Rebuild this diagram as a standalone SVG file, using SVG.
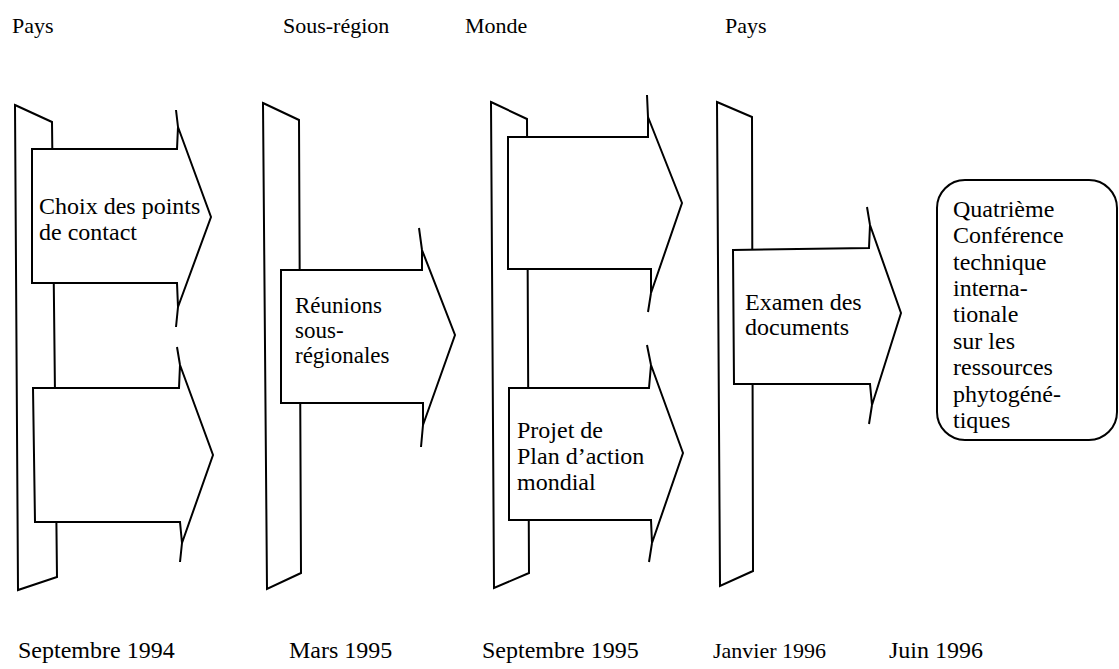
<svg xmlns="http://www.w3.org/2000/svg" width="1119" height="669" viewBox="0 0 1119 669">
<style>
.bar{fill:#fff;stroke:#000;stroke-width:2;stroke-linejoin:miter}
.arr{fill:#fff;stroke:#000;stroke-width:2;stroke-linejoin:miter}
.tick{fill:none;stroke:#000;stroke-width:2}
.box{fill:#fff;stroke:#000;stroke-width:2}
text{font-family:"Liberation Serif","Times New Roman",serif;fill:#000}
.hd{font-size:22px}
.dt{font-size:24px}
.lb{font-size:24px}
.sm{font-size:23px}
</style>
<rect width="1119" height="669" fill="#fff"/>
<g id="headers">
<text class="hd" x="12" y="33">Pays</text>
<text class="hd" x="283" y="33">Sous-région</text>
<text class="hd" x="465" y="33">Monde</text>
<text class="hd" x="725" y="33">Pays</text>
</g>
<g id="stage1">
<polygon class="bar" points="15,105 52,122 57,577 18,590"/>
<path class="arr" d="M32,149 L177,149 L178,127 L211,217 L178,307 L177,283 L32,283 Z"/>
<path class="tick" d="M176,110 L178,127 M178,307 L176,327"/>
<path class="arr" d="M33,388 L179,388 L180,365 L213,455 L182,543 L180,522 L35,522 Z"/>
<path class="tick" d="M177,347 L180,365 M182,543 L180,562"/>
<text class="lb" x="39" y="214">Choix des points</text>
<text class="lb" x="39" y="240">de contact</text>
</g>
<g id="stage2">
<polygon class="bar" points="263,103 299,120 301,573 267,589"/>
<path class="arr" d="M281,270 L422,270 L422,250 L455,335 L423,425 L423,403 L281,403 Z"/>
<path class="tick" d="M419,228 L422,250 M423,425 L421,447"/>
<text class="lb sm" x="295" y="313">Réunions</text>
<text class="lb sm" x="295" y="338">sous-</text>
<text class="lb sm" x="295" y="363">régionales</text>
</g>
<g id="stage3">
<polygon class="bar" points="491,102 527,119 529,573 494,588"/>
<path class="arr" d="M508,137 L648,137 L648,117 L682,203 L651,293 L651,269 L508,269 Z"/>
<path class="tick" d="M647,95 L648,117 M651,293 L648,312"/>
<path class="arr" d="M509,388 L649,388 L651,365 L683,453 L652,543 L651,520 L509,520 Z"/>
<path class="tick" d="M647,345 L651,365 M652,543 L649,562"/>
<text class="lb" x="517" y="438">Projet de</text>
<text class="lb" x="517" y="464">Plan d’action</text>
<text class="lb" x="517" y="490">mondial</text>
</g>
<g id="stage4">
<polygon class="bar" points="717,102 752,117 753,571 720,586"/>
<path class="arr" d="M733,250 L869,248 L870,225 L901,313 L872,405 L870,384 L734,384 Z"/>
<path class="tick" d="M867,207 L870,225 M872,405 L869,424"/>
<text class="lb" x="745" y="310">Examen des</text>
<text class="lb" x="745" y="335">documents</text>
</g>
<g id="stage5">
<rect class="box" x="937" y="180" width="180" height="260" rx="28" ry="28"/>
<text class="lb" x="953" y="217">Quatrième</text>
<text class="lb" x="953" y="243">Conférence</text>
<text class="lb" x="953" y="270">technique</text>
<text class="lb" x="953" y="296">interna-</text>
<text class="lb" x="953" y="322">tionale</text>
<text class="lb" x="953" y="349">sur les</text>
<text class="lb" x="953" y="375">ressources</text>
<text class="lb" x="953" y="402">phytogéné-</text>
<text class="lb" x="953" y="428">tiques</text>
</g>
<g id="dates">
<text class="dt" x="18" y="658">Septembre 1994</text>
<text class="dt" x="289" y="658">Mars 1995</text>
<text class="dt" x="482" y="658">Septembre 1995</text>
<text class="dt" x="713" y="658" style="font-size:22px">Janvier 1996</text>
<text class="dt" x="889" y="658">Juin 1996</text>
</g>
<g id="connectors"></g>
</svg>
